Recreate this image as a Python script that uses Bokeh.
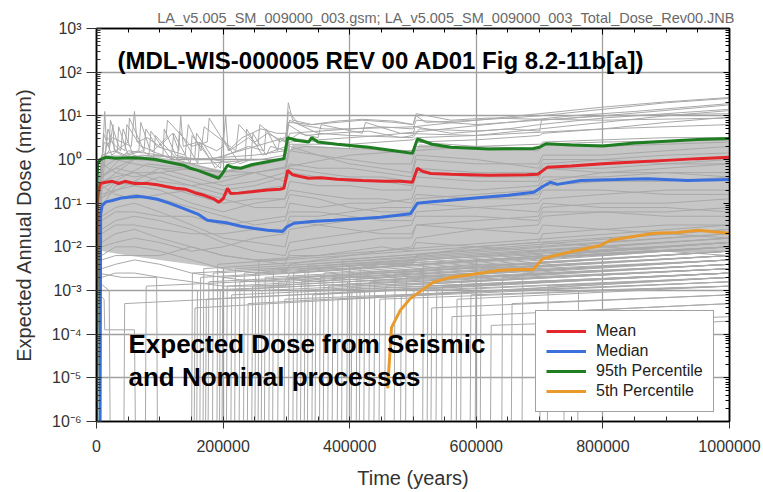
from bokeh.plotting import figure
from bokeh.models import (Legend, LegendItem, FixedTicker, LinearAxis, LogAxis, Label,
                          CustomJSTickFormatter, SingleIntervalTicker)
from bokeh.embed import file_html
from bokeh.resources import INLINE

# ---------------------------------------------------------------- data
# Times are in thousands of years, doses are given as log10(mrem).

# Shared time grid for the bulk of the realizations
band_time_kyr = [0.5, 2, 8, 30, 60, 100, 150, 200, 250, 298, 305, 350, 400, 450,
                 498, 505, 600, 698, 705, 800, 900, 1000]
band_log10 = [
    [-7, -1.0, 0.1, 0.2, 0.0, 0.1, -0.1, -0.3, -0.1, 0.0, 0.5, 0.4, 0.3, 0.2, 0.15, 0.4, 0.3, 0.25, 0.4, 0.45, 0.5, 0.5],
    [-7, -1.5, -0.2, 0.0, -0.1, -0.2, -0.4, -0.6, -0.5, -0.3, 0.2, 0.1, 0.0, -0.1, -0.1, 0.3, 0.25, 0.2, 0.35, 0.3, 0.35, 0.4],
    [-7, -2.0, -0.5, -0.4, -0.3, -0.5, -0.6, -0.8, -0.7, -0.6, -0.3, -0.4, -0.5, -0.5, -0.6, -0.2, -0.3, -0.3, -0.1, 0.0, 0.1, 0.15],
    [-7, -1.2, -0.8, -0.7, -0.6, -0.7, -1.0, -1.2, -1.0, -0.9, -0.5, -0.6, -0.6, -0.7, -0.7, -0.4, -0.5, -0.5, -0.2, -0.2, -0.1, 0.0],
    [-7, -2.5, -1.0, -0.9, -0.8, -0.9, -1.1, -1.3, -1.5, -1.4, -1.0, -1.1, -1.0, -1.0, -0.9, -0.6, -0.7, -0.6, -0.4, -0.4, -0.3, -0.3],
    [-7, -3.0, -1.3, -1.1, -1.0, -1.2, -1.5, -1.8, -1.9, -2.0, -1.6, -1.5, -1.4, -1.3, -1.3, -1.0, -0.9, -0.8, -0.6, -0.5, -0.5, -0.4],
    [-7, -2.2, -1.6, -1.4, -1.3, -1.4, -1.6, -1.9, -2.1, -2.2, -1.9, -1.8, -1.7, -1.6, -1.5, -1.2, -1.1, -1.0, -0.9, -0.8, -0.7, -0.7],
    [-7, -3.5, -1.9, -1.7, -1.6, -1.8, -2.0, -2.2, -2.3, -2.4, -2.1, -2.0, -1.9, -1.8, -1.8, -1.5, -1.4, -1.3, -1.1, -1.0, -1.0, -0.9],
    [-7, -2.8, -2.2, -2.0, -2.0, -2.1, -2.3, -2.5, -2.6, -2.6, -2.4, -2.3, -2.2, -2.1, -2.0, -1.8, -1.6, -1.5, -1.3, -1.2, -1.2, -1.1],
    [-7, -4.0, -2.5, -2.4, -2.3, -2.4, -2.6, -2.7, -2.8, -2.8, -2.6, -2.5, -2.5, -2.4, -2.4, -2.2, -2.0, -1.9, -1.7, -1.6, -1.5, -1.5],
    [-7, -0.8, -0.1, -0.3, -0.4, -0.3, -0.5, -0.7, -0.6, -0.4, -0.1, -0.2, -0.2, -0.3, -0.4, 0.0, -0.1, -0.1, 0.1, 0.1, 0.2, 0.3],
    [-7, -1.8, -1.1, -0.6, -0.5, -0.6, -0.8, -1.0, -0.9, -0.9, -0.7, -0.8, -0.9, -0.9, -1.0, -0.8, -0.9, -0.9, -0.7, -0.7, -0.8, -0.8],
    [-7, -2.0, -1.4, -1.2, -1.2, -1.3, -1.3, -1.5, -1.4, -1.3, -1.2, -1.2, -1.3, -1.4, -1.4, -1.3, -1.3, -1.4, -1.2, -1.2, -1.3, -1.3],
    [-7, -3.2, -2.0, -1.9, -1.8, -1.9, -2.1, -2.0, -1.8, -1.7, -1.4, -1.5, -1.6, -1.7, -1.7, -1.5, -1.6, -1.7, -1.5, -1.6, -1.7, -1.8],
    [-7, -5.0, -2.7, -2.6, -2.6, -2.7, -2.8, -2.9, -2.9, -2.9, -2.7, -2.8, -2.7, -2.7, -2.6, -2.5, -2.4, -2.4, -2.2, -2.2, -2.1, -2.1],
    [-7, -1.0, -0.4, -0.2, -0.3, -0.3, -0.2, -0.4, -0.3, -0.2, 0.3, 0.1, -0.1, -0.2, -0.3, 0.1, 0.0, -0.2, 0.0, 0.0, -0.1, -0.1],
    [-7, -2.5, -0.6, -0.8, -0.9, -0.8, -0.7, -0.9, -1.1, -1.1, -0.8, -0.9, -1.1, -1.2, -1.2, -1.0, -1.1, -1.2, -1.0, -1.1, -1.1, -1.2],
    [-7, -3.0, -1.7, -1.5, -1.5, -1.6, -1.7, -1.7, -1.6, -1.6, -1.3, -1.3, -1.2, -1.1, -1.1, -0.9, -0.8, -0.7, -0.5, -0.3, -0.2, -0.1],
    [-7, -3.8, -2.3, -2.2, -2.2, -2.2, -2.0, -2.2, -2.3, -2.3, -2.2, -2.2, -2.1, -2.0, -2.1, -1.9, -2.0, -2.1, -1.9, -2.0, -2.1, -2.2],
    [-7, -2.4, -0.9, -0.5, -0.6, -0.4, -0.6, -0.5, -0.3, -0.5, -0.2, -0.3, -0.4, -0.4, -0.5, -0.3, -0.4, -0.4, -0.2, -0.3, -0.3, -0.4],
]

# Realizations with sharp early peaks and high late doses (own time points)
spiky_time_kyr = [
    [3, 10, 13, 16, 25, 40, 55, 60, 64, 80, 100, 120, 130, 133, 137, 160, 190, 200, 204, 208, 230, 260, 285, 300, 303, 310, 340, 380, 420, 470, 500, 505, 520, 600, 700, 800, 900, 1000],
    [5, 12, 20, 22, 35, 45, 48, 70, 90, 110, 112, 150, 175, 178, 210, 240, 255, 258, 290, 300, 303, 320, 360, 400, 450, 500, 505, 600, 700, 800, 1000],
    [4, 15, 18, 30, 50, 52, 75, 78, 95, 140, 145, 165, 170, 220, 225, 250, 270, 298, 305, 350, 400, 500, 510, 600, 650, 700, 800, 900, 1000],
    [2, 8, 20, 26, 28, 40, 67, 70, 85, 105, 107, 125, 155, 158, 185, 215, 235, 237, 262, 280, 300, 303, 330, 370, 430, 480, 500, 503, 560, 650, 700, 703, 800, 1000],
    [2, 9, 11, 24, 33, 35, 50, 72, 83, 86, 118, 122, 148, 151, 180, 196, 199, 226, 244, 247, 268, 275, 300, 330, 400, 500, 600, 700, 800, 1000],
    [3, 14, 17, 38, 42, 58, 90, 93, 128, 131, 160, 163, 188, 205, 240, 265, 268, 286, 290, 300, 320, 350, 355, 420, 425, 480, 600, 800, 1000],
    [3, 50, 150, 250, 298, 305, 400, 500, 600, 700, 800, 900, 1000],
    [3, 60, 160, 260, 298, 305, 350, 450, 550, 650, 750, 850, 1000],
    [4, 80, 200, 300, 305, 400, 500, 505, 600, 700, 800, 900, 1000],
    [5, 100, 250, 400, 500, 505, 600, 700, 705, 800, 900, 1000],
    [3, 70, 180, 298, 303, 340, 380, 420, 470, 500, 505, 560, 620, 700, 800, 1000],
]
spiky_log10 = [
    [-1, 0.2, 1.1, 0.3, 0.5, 0.4, 0.3, 1.1, 0.4, 0.5, 0.3, 0.6, 0.2, 1.0, 0.3, 0.4, 0.2, 0.3, 1.0, 0.2, 0.5, 0.7, 0.6, 0.6, 1.3, 0.9, 0.8, 0.85, 0.9, 0.85, 0.8, 1.0, 0.85, 0.9, 1.0, 1.15, 1.3, 1.4],
    [-0.5, 0.4, 0.3, 0.9, 0.3, 0.2, 0.8, 0.3, 0.2, 0.5, 0.9, 0.3, 0.4, 0.95, 0.2, 0.5, 0.3, 0.8, 0.4, 0.5, 1.1, 0.8, 0.7, 0.7, 0.75, 0.7, 0.9, 0.8, 0.9, 1.0, 1.25],
    [-0.8, 0.3, 0.7, 0.2, 0.4, 0.95, 0.2, 0.7, 0.3, 0.1, 0.8, 0.2, 0.75, 0.2, 0.8, 0.4, 0.6, 0.4, 0.9, 0.6, 0.55, 0.5, 0.7, 0.65, 0.7, 0.8, 0.95, 1.05, 1.15],
    [-1.2, 0.0, 0.2, 0.8, 0.2, 0.1, 0.2, 0.85, 0.2, 0.1, 0.7, 0.1, 0.0, 0.6, 0.0, -0.1, 0.0, 0.7, 0.1, 0.2, 0.3, 0.8, 0.55, 0.6, 0.65, 0.5, 0.55, 0.75, 0.6, 0.7, 0.65, 0.9, 1.0, 1.05],
    [-2, 0.0, 0.6, 0.1, 0.2, 0.75, 0.1, 0.2, 0.1, 0.65, 0.0, 0.6, -0.1, 0.55, 0.0, -0.2, 0.5, -0.1, 0.0, 0.6, 0.1, 0.3, 0.2, 0.3, 0.25, 0.2, 0.3, 0.35, 0.4, 0.45],
    [-1.5, 0.1, 0.5, 0.2, 0.7, 0.1, 0.0, 0.55, 0.0, 0.65, -0.1, 0.4, -0.2, 0.1, 0.3, 0.2, 0.7, 0.2, 0.5, 0.4, 0.6, 0.5, 0.8, 0.6, 0.85, 0.6, 0.55, 0.7, 0.8],
    [-0.5, 0.2, 0.0, 0.1, 0.2, 0.6, 0.7, 0.75, 0.9, 1.05, 1.2, 1.32, 1.42],
    [-0.6, 0.0, -0.1, 0.0, 0.1, 0.4, 0.45, 0.55, 0.7, 0.85, 1.0, 1.1, 1.28],
    [-0.7, -0.1, -0.3, 0.0, 0.35, 0.35, 0.45, 0.5, 0.55, 0.7, 0.85, 1.0, 1.12],
    [-0.9, -0.2, -0.3, 0.1, 0.2, 0.4, 0.45, 0.55, 0.6, 0.7, 0.85, 0.97],
    [-0.4, 0.1, 0.0, 0.5, 0.85, 0.8, 0.88, 0.92, 0.88, 0.8, 1.05, 0.9, 0.95, 0.92, 0.9, 0.95],
]

# Realizations whose dose starts abruptly later on (seismic events)
riser_start_kyr = [43, 77, 150, 154, 158, 163, 168, 172, 176, 183, 190, 194, 198, 205, 212, 218,
                   225, 232, 238, 245, 250, 255, 260, 265, 272, 278, 286, 296, 303, 310, 316, 322,
                   328, 333, 340, 345, 352, 358, 365, 372, 380, 387, 395, 402, 410, 415, 422, 430,
                   438, 446, 455, 470, 480, 488, 500, 515, 522, 528, 536, 545, 560, 568, 575, 590,
                   598, 606, 622, 640, 655, 672, 700, 712, 738, 760]
riser_top_log10 = [-3.3, -2.9, -2.6, -3.4, -3.0, -2.7, -2.5, -3.2, -2.8, -2.6, -2.4, -3.0, -2.7, -2.9,
                   -3.1, -2.5, -2.8, -2.6, -3.3, -2.9, -2.6, -2.3, -3.0, -2.7, -2.9, -2.5, -2.8, -3.2,
                   -2.7, -2.6, -3.0, -2.8, -2.5, -2.4, -3.1, -3.0, -2.7, -2.6, -2.9, -2.7, -3.2, -2.3,
                   -2.8, -2.9, -2.6, -2.5, -3.0, -2.8, -2.7, -3.2, -2.9, -2.6, -3.1, -2.7, -3.0, -2.4,
                   -2.9, -3.4, -3.0, -2.9, -3.6, -3.2, -2.8, -3.1, -2.7, -2.5, -3.8, -2.7, -3.3, -2.6,
                   -3.5, -2.9, -3.9, -3.0]
riser_end_log10 = [-2.6, -2.3, -1.9, -2.7, -2.5, -2.0, -1.7, -2.6, -2.2, -2.0, -1.6, -2.4, -2.0, -2.3,
                   -2.6, -1.8, -2.1, -1.9, -2.7, -2.4, -2.0, -1.5, -2.5, -2.1, -2.3, -1.8, -2.2, -2.8,
                   -2.1, -1.9, -2.5, -2.3, -1.8, -1.7, -2.6, -2.6, -2.1, -2.0, -2.4, -2.2, -2.8, -1.6,
                   -2.3, -2.5, -2.0, -1.9, -2.6, -2.4, -2.2, -2.9, -2.5, -2.1, -2.8, -2.3, -2.7, -1.9,
                   -2.6, -3.1, -2.7, -2.6, -3.3, -2.9, -2.5, -2.9, -2.4, -2.2, -3.6, -2.4, -3.1, -2.3,
                   -3.3, -2.7, -3.7, -2.9]

# Realizations that fall out early
drop_time_kyr = [[2, 40, 95, 96.5], [3, 20, 22], [5, 12, 13, 60, 62]]
drop_log10 = [[-2.6, -2.7, -2.7, -7], [-2.8, -3.0, -7], [-3.1, -3.2, -3.9, -3.9, -7]]

# Dense core of the realizations (envelope)
core_time_kyr = [3, 10, 50, 100, 150, 200, 250, 300, 310, 400, 500, 510, 600, 700, 710, 800, 900, 1000]
core_upper_log10 = [-0.4, 0.1, 0.1, 0.05, -0.1, -0.25, -0.1, 0.0, 0.35, 0.25, 0.15, 0.35, 0.25, 0.25, 0.35, 0.35, 0.4, 0.45]
core_lower_log10 = [-2.0, -2.1, -2.2, -2.3, -2.4, -2.5, -2.55, -2.55, -2.5, -2.45, -2.4, -2.3, -2.25, -2.2, -2.15, -2.15, -2.1, -2.1]

# Summary statistics
mean_time_kyr = [0.5, 1.5, 3, 6, 15, 25, 35, 45, 60, 80, 96, 110, 125, 140, 155, 170, 185, 193, 200, 207,
                 212, 225, 245, 270, 290, 296, 302, 310, 322, 335, 355, 380, 420, 455, 480, 499, 507, 515,
                 528, 560, 620, 680, 697, 712, 750, 800, 850, 900, 950, 1000]
mean_log10 = [-3.0, -0.95, -0.75, -0.55, -0.52, -0.5, -0.55, -0.5, -0.55, -0.55, -0.58, -0.62, -0.66, -0.68,
              -0.76, -0.82, -0.9, -0.98, -0.9, -0.66, -0.78, -0.77, -0.74, -0.7, -0.68, -0.66, -0.25, -0.35,
              -0.39, -0.43, -0.42, -0.45, -0.48, -0.5, -0.5, -0.52, -0.2, -0.27, -0.32, -0.34, -0.36, -0.35,
              -0.34, -0.18, -0.15, -0.1, -0.06, -0.02, 0.02, 0.05]

median_time_kyr = [5.5, 6.5, 9, 15, 25, 40, 65, 80, 96, 115, 137, 160, 175, 205, 228, 250, 270, 294, 300,
                   312, 340, 375, 420, 449, 496, 507, 530, 554, 607, 650, 691, 705, 717, 728, 765, 820, 870,
                   934, 1000]
median_log10 = [-7, -1.25, -1.05, -0.97, -0.94, -0.88, -0.84, -0.87, -0.91, -1.0, -1.12, -1.25, -1.39,
                -1.45, -1.53, -1.58, -1.62, -1.65, -1.55, -1.46, -1.42, -1.39, -1.35, -1.32, -1.24, -1.0,
                -0.97, -0.94, -0.87, -0.82, -0.75, -0.62, -0.52, -0.57, -0.48, -0.46, -0.44, -0.48, -0.46]

p95_time_kyr = [0.3, 0.8, 2, 6, 15, 30, 59, 80, 93, 110, 137, 148, 160, 193, 200, 207, 215, 228, 245, 270,
                296, 302, 315, 335, 340, 350, 380, 430, 470, 499, 507, 530, 560, 620, 690, 700, 710, 750,
                800, 850, 900, 950, 1000]
p95_log10 = [-7, -0.5, -0.1, 0.0, 0.05, 0.03, 0.04, 0.02, 0.0, -0.05, -0.13, -0.2, -0.25, -0.43, -0.3, -0.13,
             -0.18, -0.2, -0.12, -0.05, 0.02, 0.5, 0.44, 0.4, 0.5, 0.4, 0.35, 0.28, 0.2, 0.14, 0.47, 0.35,
             0.28, 0.24, 0.25, 0.28, 0.36, 0.33, 0.31, 0.38, 0.42, 0.46, 0.48]

p5_time_kyr = [460, 466, 480, 496, 532, 559, 596, 634, 665, 690, 705, 744, 796, 812, 880, 918, 950, 1000]
p5_log10 = [-5.24, -3.85, -3.45, -3.18, -2.81, -2.7, -2.63, -2.54, -2.52, -2.52, -2.27, -2.13, -1.97,
            -1.85, -1.69, -1.67, -1.62, -1.69]

# Axis ticks
x_tick_interval = 200000
y_decade_exponents = [-6, -5, -4, -3, -2, -1, 0, 1, 2, 3]

header_text = "LA_v5.005_SM_009000_003.gsm; LA_v5.005_SM_009000_003_Total_Dose_Rev00.JNB"
ref_text = "(MDL-WIS-000005 REV 00 AD01 Fig 8.2-11b[a])"
note_lines = ["Expected Dose from Seismic", "and Nominal processes"]


def years(kyr):
    return [t * 1000.0 for t in kyr]


def dose(log10_values):
    return [10.0 ** v for v in log10_values]


# ---------------------------------------------------------------- figure
FONT = "Liberation Sans"
GRAY = "#a9a9a9"

p = figure(width=763, height=492, x_range=(0, 1e6), y_range=(1e-6, 1e3),
           y_axis_type="log", output_backend="svg", toolbar_location=None,
           min_border_left=96, min_border_right=34, min_border_top=28, min_border_bottom=71)
p.background_fill_color = "white"
p.border_fill_color = "white"
p.outline_line_color = "black"
p.outline_line_width = 1.5

# file names shown above the frame
p.title.text = header_text
p.title.align = "right"
p.title.text_font = FONT
p.title.text_font_size = "14.5px"
p.title.text_font_style = "normal"
p.title.text_color = "#6a6a6a"
p.title.standoff = 5
p.title.offset = -5

# realizations
p.patch(years(core_time_kyr) + years(core_time_kyr[::-1]),
        dose(core_upper_log10) + dose(core_lower_log10[::-1]),
        fill_color="#c6c6c6", line_color=None)
for row in band_log10:
    p.line(years(band_time_kyr), dose(row), line_color=GRAY, line_width=1)
for tk, lv in zip(spiky_time_kyr, spiky_log10):
    p.line(years(tk), dose(lv), line_color=GRAY, line_width=1)
for t0, top, end in zip(riser_start_kyr, riser_top_log10, riser_end_log10):
    p.line(years([t0, t0 + 1.5, 1000]), dose([-7, top, end]), line_color=GRAY, line_width=1)
for tk, lv in zip(drop_time_kyr, drop_log10):
    p.line(years(tk), dose(lv), line_color=GRAY, line_width=1)

# statistics
r_mean = p.line(years(mean_time_kyr), dose(mean_log10), line_color="#e3262b", line_width=3)
r_med = p.line(years(median_time_kyr), dose(median_log10), line_color="#3a6fdc", line_width=3)
r_p95 = p.line(years(p95_time_kyr), dose(p95_log10), line_color="#1f7d22", line_width=3)
r_p5 = p.line(years(p5_time_kyr), dose(p5_log10), line_color="#e89a2c", line_width=3)

# ---------------------------------------------------------------- axes
sup_js = """
const s = {"-": "\u207b", "0": "\u2070", "1": "\u00b9", "2": "\u00b2", "3": "\u00b3",
           "4": "\u2074", "5": "\u2075", "6": "\u2076", "7": "\u2077", "8": "\u2078", "9": "\u2079"};
const e = Math.round(Math.log10(tick));
return "10" + String(e).split("").map(c => s[c]).join("");
"""
y_major = [10.0 ** e for e in y_decade_exponents]
y_minor = [m * 10.0 ** e for e in y_decade_exponents[:-1] for m in range(1, 10)]
y_ticker = FixedTicker(ticks=y_major, minor_ticks=y_minor)
x_ticker = SingleIntervalTicker(interval=x_tick_interval, num_minor_ticks=4)

xa = p.xaxis[0]
xa.ticker = x_ticker
xa.formatter = CustomJSTickFormatter(code="return tick.toFixed(0);")
xa.axis_label = "Time (years)"
ya = p.yaxis[0]
ya.ticker = y_ticker
ya.formatter = CustomJSTickFormatter(code=sup_js)
ya.axis_label = "Expected Annual Dose (mrem)"

for ax in (xa, ya):
    ax.axis_line_color = "black"
    ax.axis_line_width = 1.5
    ax.major_tick_line_color = "#333333"
    ax.minor_tick_line_color = "#333333"
    ax.major_label_text_font = FONT
    ax.major_label_text_font_size = "16px"
    ax.major_label_text_color = "#333333"
    ax.axis_label_text_font = FONT
    ax.axis_label_text_font_size = "20px"
    ax.axis_label_text_font_style = "normal"
    ax.axis_label_text_color = "#333333"

xa.major_tick_in = 0
xa.major_tick_out = 7
xa.minor_tick_in = 5
xa.minor_tick_out = 0
xa.major_label_standoff = 11
xa.axis_label_standoff = 12
ya.major_tick_in = 5
ya.major_tick_out = 10
ya.minor_tick_in = 4
ya.minor_tick_out = 0
ya.major_label_standoff = 5
ya.axis_label_standoff = 14

blank = CustomJSTickFormatter(code="return '';")
top_axis = LinearAxis(ticker=x_ticker, formatter=blank, major_label_text_font_size="2px",
                      major_label_standoff=0,
                      major_tick_in=6, major_tick_out=0, minor_tick_in=4, minor_tick_out=0,
                      axis_line_color="black", axis_line_width=1.5)
right_axis = LogAxis(ticker=y_ticker, formatter=blank, major_label_text_font_size="2px",
                     major_label_standoff=0,
                     major_tick_in=6, major_tick_out=0, minor_tick_in=4, minor_tick_out=0,
                     axis_line_color="black", axis_line_width=1.5)
p.add_layout(top_axis, "above")
p.add_layout(right_axis, "right")

p.xgrid.ticker = x_ticker
p.xgrid.grid_line_color = "#a0a0a0"
p.xgrid.grid_line_width = 1.3
p.ygrid.ticker = y_ticker
p.ygrid.grid_line_color = "#a0a0a0"
p.ygrid.grid_line_width = 1.3

# ---------------------------------------------------------------- legend
legend = Legend(items=[LegendItem(label="Mean", renderers=[r_mean]),
                       LegendItem(label="Median", renderers=[r_med]),
                       LegendItem(label="95th Percentile", renderers=[r_p95]),
                       LegendItem(label="5th Percentile", renderers=[r_p5])],
                location=(439, 9), orientation="vertical",
                glyph_width=40, glyph_height=20, label_height=20, spacing=0,
                padding=10, margin=0, label_standoff=10,
                label_text_font=FONT, label_text_font_size="16px", label_text_color="#222222",
                border_line_color="#444444", border_line_width=1.5,
                background_fill_color="white", background_fill_alpha=1.0)
p.add_layout(legend)

# ---------------------------------------------------------------- texts
p.add_layout(Label(x=33200, y=185, text=ref_text, text_align="left", text_baseline="alphabetic",
                   text_font=FONT, text_font_size="24px", text_font_style="bold", text_color="black"))
p.add_layout(Label(x=50500, y=5.87e-5, text=note_lines[0], text_align="left", text_baseline="alphabetic",
                   text_font=FONT, text_font_size="26px", text_font_style="bold", text_color="black"))
p.add_layout(Label(x=50500, y=1.03e-5, text=note_lines[1], text_align="left", text_baseline="alphabetic",
                   text_font=FONT, text_font_size="26px", text_font_style="bold", text_color="black"))

open("out.html", "w").write(file_html(p, INLINE))
